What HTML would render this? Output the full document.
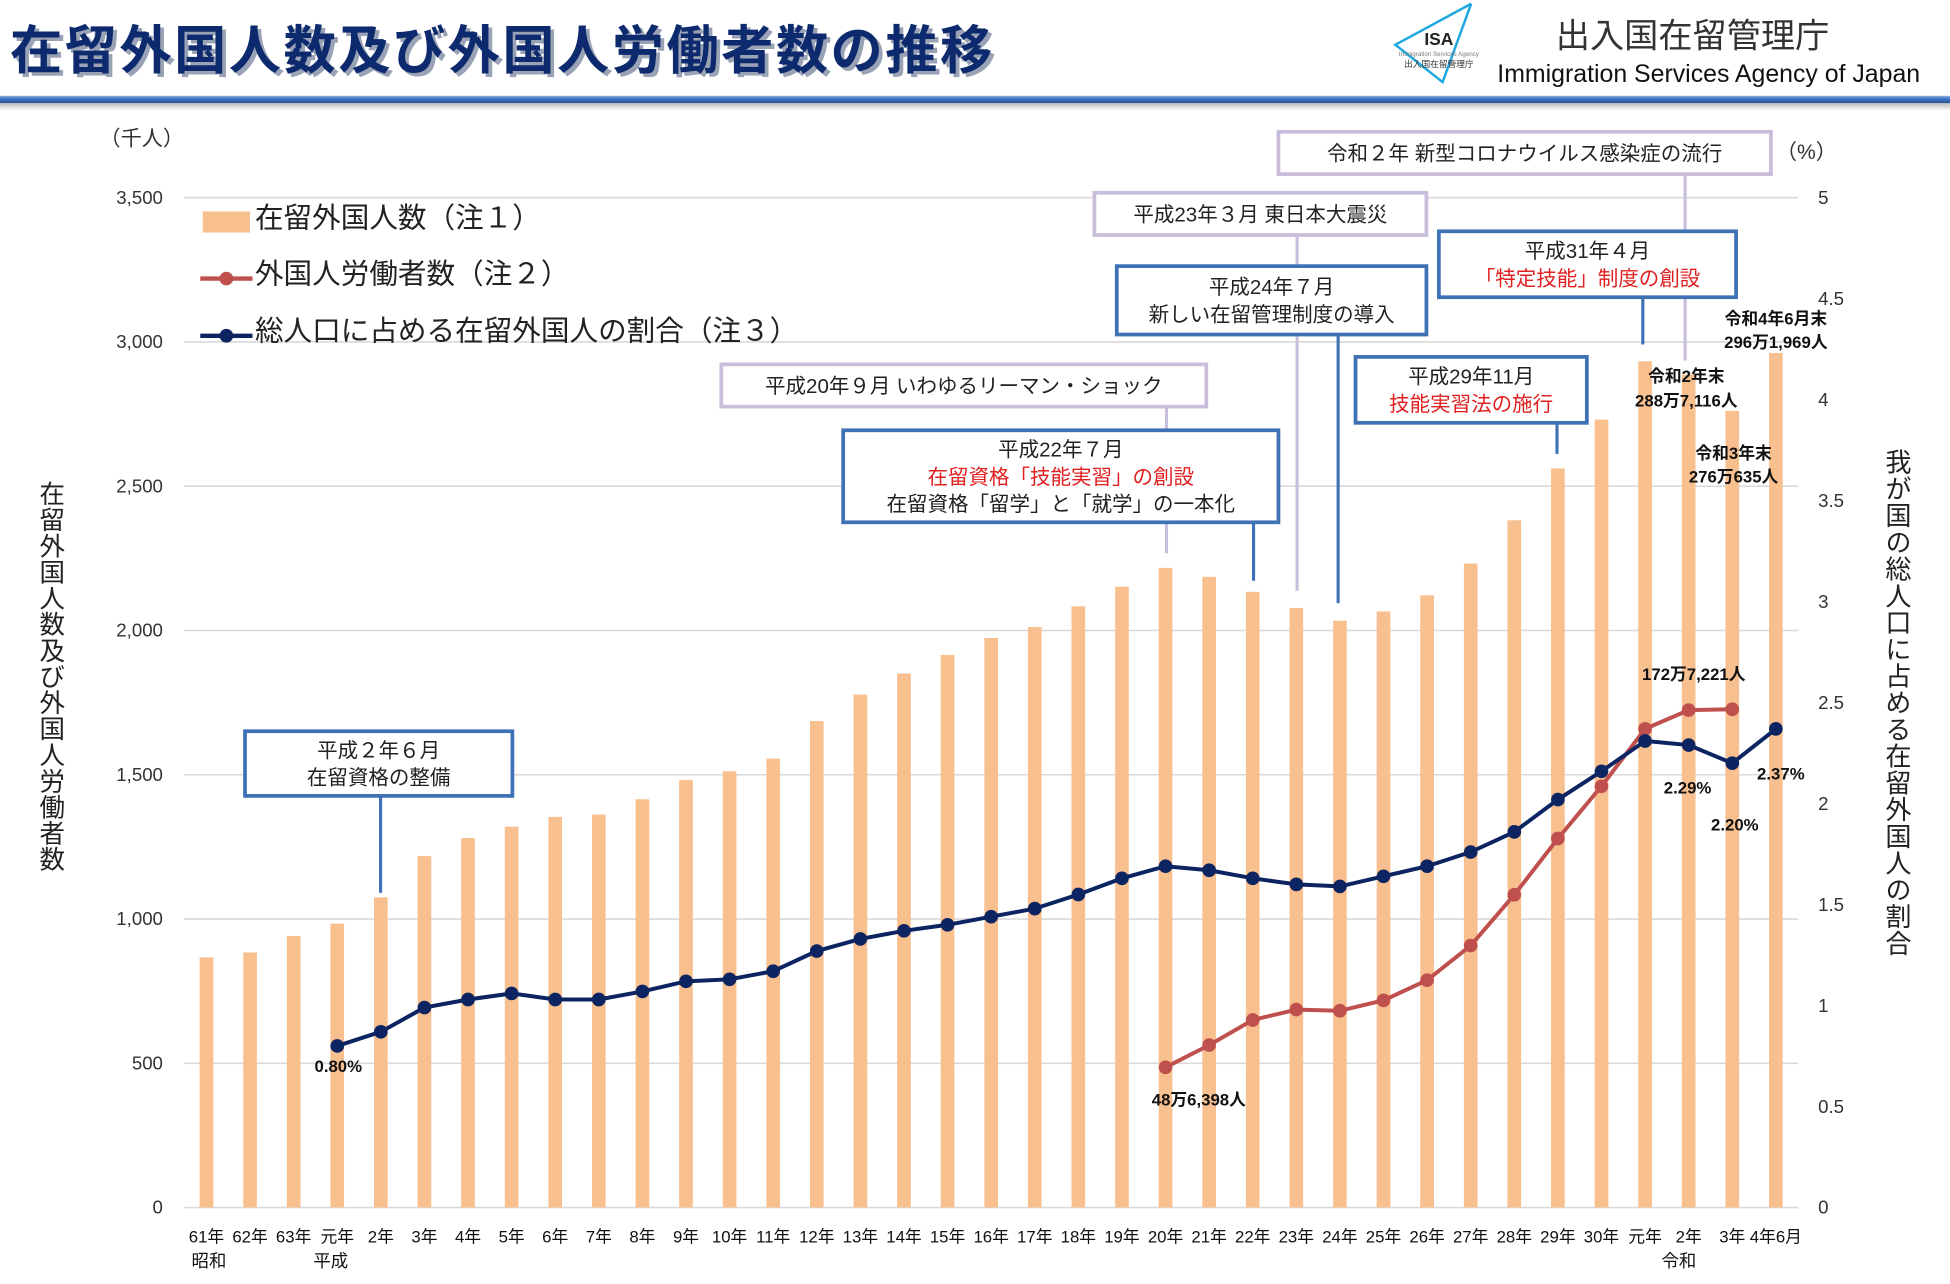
<!DOCTYPE html>
<html><head><meta charset="utf-8"><style>
html,body{margin:0;padding:0;background:#fff;}
svg{display:block;font-family:"Liberation Sans","Noto Sans CJK JP",sans-serif;}
</style></head><body>
<svg id="chart" width="1950" height="1284" viewBox="0 0 1568 1032.5" xmlns="http://www.w3.org/2000/svg">
<defs>
<linearGradient id="bar" x1="0" y1="0" x2="0" y2="1"><stop offset="0" stop-color="#8fb3e0"/><stop offset="0.4" stop-color="#3f74c2"/><stop offset="1" stop-color="#26508f"/></linearGradient>
<linearGradient id="shadow" x1="0" y1="0" x2="0" y2="1"><stop offset="0" stop-color="#bbb"/><stop offset="1" stop-color="#fff"/></linearGradient>
</defs>
<g>
<text x="11" y="58" font-size="42" letter-spacing="2" font-weight="bold" fill="#9aa3b5">在留外国人数及び外国人労働者数の推移</text>
<text x="8" y="55" font-size="42" letter-spacing="2" font-weight="bold" fill="#0e2a6e">在留外国人数及び外国人労働者数の推移</text>
<g>
<polyline points="1183,3 1122,36 1160,66 1183,3" fill="none" stroke="#1fa8e0" stroke-width="2"/>
<text x="1157" y="36" font-size="14" font-weight="bold" text-anchor="middle" fill="#222">ISA</text>
<text x="1157" y="45" font-size="5" text-anchor="middle" fill="#777">Immigration Services Agency</text>
<text x="1157" y="54" font-size="7" text-anchor="middle" fill="#333">出入国在留管理庁</text>
</g>
<text x="1361" y="38" font-size="27.5" text-anchor="middle" fill="#333">出入国在留管理庁</text>
<text x="1374" y="66" font-size="20" text-anchor="middle" fill="#111">Immigration Services Agency of Japan</text>
<rect x="0" y="77" width="1568" height="6" fill="url(#bar)"/>
<rect x="0" y="83" width="1568" height="6" fill="url(#shadow)"/>
</g>
<g id="grid"></g>
<g id="bars"></g>
<g id="annotations"></g>
<g id="lines"></g>
<g id="labels"></g>
</svg>
<script>
const categories=["61年","62年","63年","元年","2年","3年","4年","5年","6年","7年","8年","9年","10年","11年","12年","13年","14年","15年","16年","17年","18年","19年","20年","21年","22年","23年","24年","25年","26年","27年","28年","29年","30年","元年","2年","3年","4年6月"];
const residents=[867,884,941,984,1075,1218,1281,1320,1354,1362,1415,1482,1512,1556,1686,1778,1851,1915,1974,2012,2084,2152,2217,2186,2134,2078,2034,2066,2122,2232,2382,2562,2731,2933,2887,2761,2962];
const workers=[null,null,null,null,null,null,null,null,null,null,null,null,null,null,null,null,null,null,null,null,null,null,486,563,650,686,682,718,788,908,1084,1279,1460,1659,1724,1727,null];
const ratio=[null,null,null,0.80,0.87,0.99,1.03,1.06,1.03,1.03,1.07,1.12,1.13,1.17,1.27,1.33,1.37,1.40,1.44,1.48,1.55,1.63,1.69,1.67,1.63,1.60,1.59,1.64,1.69,1.76,1.86,2.02,2.16,2.31,2.29,2.20,2.37];
const leftTicks=[0,500,1000,1500,2000,2500,3000,3500];
const leftTickLabels=["0","500","1,000","1,500","2,000","2,500","3,000","3,500"];
const rightTicks=[0,0.5,1,1.5,2,2.5,3,3.5,4,4.5,5];
const rightTickLabels=["0","0.5","1","1.5","2","2.5","3","3.5","4","4.5","5"];

const NS="http://www.w3.org/2000/svg";
const X0=166,DX=(1428-166)/36,Y0=971,YTOP=159;
function xPos(i){return X0+i*DX;}
function yL(v){return Y0-(v/3500)*(Y0-YTOP);}
function yR(p){return Y0-(p/5)*(Y0-YTOP);}
function mk(tag,attrs,parent,txt){const e=document.createElementNS(NS,tag);for(const k in attrs)e.setAttribute(k,attrs[k]);if(txt!==undefined)e.textContent=txt;parent.appendChild(e);return e;}
const svg=document.getElementById('chart');
const grid=document.getElementById('grid'),bars=document.getElementById('bars'),lines=document.getElementById('lines'),labels=document.getElementById('labels'),ann=document.getElementById('annotations');

leftTicks.forEach((t,i)=>{
  const l=mk('line',{x1:148,x2:1446,y1:yL(t),y2:yL(t),stroke:'#d9d9d9','stroke-width':1.3},grid);
  
  
  const tx=mk('text',{x:131,y:yL(t)+5,'font-size':15,'text-anchor':'end',fill:'#333'},grid,leftTickLabels[i]);
  
  
});
rightTicks.forEach((t,i)=>{
  const tx=mk('text',{x:1462,y:yR(t)+5,'font-size':15,fill:'#333'},grid,rightTickLabels[i]);
  
  
});
categories.forEach((c,i)=>{
  const tx=mk('text',{x:xPos(i),y:999,'font-size':13.5,'text-anchor':'middle',fill:'#111'},grid,c);
  
  
});
[["昭和",168],["平成",266],["令和",1350]].forEach(e=>{
  const tx=mk('text',{x:e[1],y:1019,'font-size':14,'text-anchor':'middle',fill:'#111'},grid,e[0]);
  
  
});
residents.forEach((v,i)=>{
  const r=mk('rect',{x:xPos(i)-5.5,y:yL(v),width:11,height:Y0-yL(v),fill:'#f9c08f'},bars);
  
  
});
function series(arr,ys,color,name){
  let pts=[];arr.forEach((v,i)=>{if(v!==null)pts.push([xPos(i),ys(v)]);});
  const pl=mk('polyline',{points:pts.map(p=>p.join(',')).join(' '),fill:'none',stroke:color,'stroke-width':3.2},lines);
  
  
  pts.forEach(p=>{
    const c=mk('circle',{cx:p[0],cy:p[1],r:5.5,fill:color},lines);
    
    
  });
}
series(workers,yL,'#c0504d','workers');
series(ratio,yR,'#0c2461','ratio');

function box(x1,y1,x2,y2,color,lx,ly,rows,name){
  const l=mk('line',{x1:lx,x2:lx,y1:y2,y2:ly,stroke:color,'stroke-width':2.5},ann);
  
  
  const r=mk('rect',{x:x1,y:y1,width:x2-x1,height:y2-y1,fill:'#fff',stroke:color,'stroke-width':3},ann);
  
  
  const n=rows.length,lh=22;const cy=(y1+y2)/2;
  rows.forEach((row,k)=>{
    const t=mk('text',{x:(x1+x2)/2,y:cy+(k-(n-1)/2)*lh+6,'font-size':16.5,'text-anchor':'middle',fill:row[1]||'#222'},ann,row[0]);
    
    
  });
}
const BL='#3f72b5',LV='#c9bddc';
box(580,293,970,327,LV,938,445,[["平成20年９月 いわゆるリーマン・ショック"]],'lehman');
box(880,155,1147,189,LV,1043,475,[["平成23年３月 東日本大震災"]],'earthquake');
box(1028,106,1424,140,LV,1355,290,[["令和２年 新型コロナウイルス感染症の流行"]],'covid');
box(197,588,412,640,BL,306,718,[["平成２年６月"],["在留資格の整備"]],'h2');
box(678,346,1028,420,BL,1008,467,[["平成22年７月"],["在留資格「技能実習」の創設","#e02020"],["在留資格「留学」と「就学」の一本化"]],'h22');
box(898,214,1147,269,BL,1076,485,[["平成24年７月"],["新しい在留管理制度の導入"]],'h24');
box(1090,287,1276,340,BL,1252,365,[["平成29年11月"],["技能実習法の施行","#e02020"]],'h29');
box(1157,186,1396,239,BL,1321,277,[["平成31年４月"],["「特定技能」制度の創設","#e02020"]],'h31');

[["0.80%",272,862],["48万6,398人",964,889],["172万7,221人",1362,547],["2.29%",1357,638],["2.20%",1395,668],["2.37%",1432,627],
 ["令和2年末",1356,307],["288万7,116人",1356,327],["令和3年末",1394,369],["276万635人",1394,388],["令和4年6月末",1428,261],["296万1,969人",1428,280]].forEach(d=>{
  const t=mk('text',{x:d[1],y:d[2],'font-size':13.5,'font-weight':'bold','text-anchor':'middle',fill:'#111'},labels,d[0]);
  
  
});
const lg=mk('g',{},labels);


const lr=mk('rect',{x:163,y:170,width:38,height:17,fill:'#f9c08f'},lg);


[["#c0504d",224],["#0c2461",270]].forEach(e=>{
  mk('line',{x1:161,x2:203,y1:e[1],y2:e[1],stroke:e[0],'stroke-width':3.5},lg);
  const c=mk('circle',{cx:182,cy:e[1],r:5.5,fill:e[0]},lg);
  
  
});
[["在留外国人数（注１）",175],["外国人労働者数（注２）",220],["総人口に占める在留外国人の割合（注３）",266]].forEach(e=>{
  const t=mk('text',{x:205,y:e[1]+8,'font-size':23,fill:'#222'},lg,e[0]);
  
  
});
const u1=mk('text',{x:80,y:117,'font-size':17,fill:'#333'},labels,"（千人）");


const u2=mk('text',{x:1428,y:128,'font-size':17,fill:'#333'},labels,"（%）");


const at1=mk('text',{x:40,y:544,'font-size':20.5,'text-anchor':'middle',fill:'#222',style:'writing-mode:vertical-rl;letter-spacing:0.5px'},labels,"在留外国人数及び外国人労働者数");


const at2=mk('text',{x:1525,y:565,'font-size':21,'text-anchor':'middle',fill:'#222',style:'writing-mode:vertical-rl;letter-spacing:0.5px'},labels,"我が国の総人口に占める在留外国人の割合");


</script>
</body></html>
